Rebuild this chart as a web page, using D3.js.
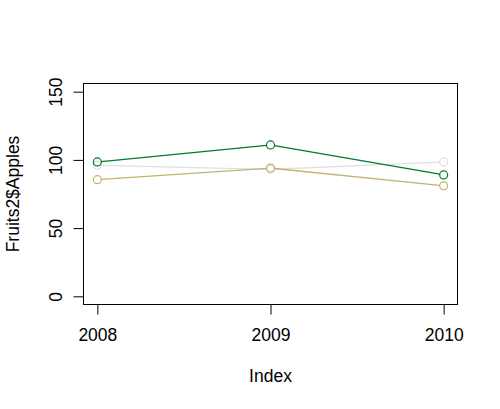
<!DOCTYPE html>
<html>
<head>
<meta charset="utf-8">
<script src="https://cdn.jsdelivr.net/npm/d3@7"></script>
<style>
  body { margin: 0; background: #fff; }
  svg text { font-family: "Liberation Sans", Arial, sans-serif; fill: #000; }
</style>
</head>
<body>
<div id="chart"></div>
<script>
// data
const years = [2008, 2009, 2010];
const apples = [98.5, 111, 89];
const oranges = [96, 93, 98.5];
const bananas = [85.5, 94, 81];
const yTicks = [0, 50, 100, 150];

const series = [
  { name: "Oranges", values: oranges, color: "#e0e0e0" },
  { name: "Bananas", values: bananas, color: "#c2b46e" },
  { name: "Apples", values: apples, color: "#007a2e" }
];

const W = 500, H = 409;
const box = { left: 83.5, right: 457.5, top: 83.5, bottom: 304.5 };
const R = 4;

const svg = d3.select("#chart").append("svg")
  .attr("width", W).attr("height", H);

// R style 4% padding
const x = d3.scaleLinear().domain([2008 - 0.08, 2010 + 0.08]).range([box.left, box.right]);
const y = d3.scaleLinear().domain([-6, 156]).range([box.bottom, box.top]);

const xAxis = svg.append("g")
  .attr("transform", "translate(0," + box.bottom + ")")
  .call(d3.axisBottom(x).tickValues(years).tickFormat(d3.format("d")).tickSize(10).tickPadding(14));
xAxis.select(".domain").attr("stroke", "none");
xAxis.selectAll("text").style("font-size", "17.5px");

const yAxis = svg.append("g")
  .attr("transform", "translate(" + box.left + ",0)")
  .call(d3.axisLeft(y).tickValues(yTicks).tickSize(10).tickPadding(0));
yAxis.select(".domain").attr("stroke", "none");
yAxis.selectAll("text")
  .style("font-size", "17.5px")
  .attr("x", 0).attr("dy", 0)
  .attr("text-anchor", "middle")
  .attr("transform", "translate(-22,0) rotate(-90)");

svg.append("rect")
  .attr("x", box.left).attr("y", box.top)
  .attr("width", box.right - box.left).attr("height", box.bottom - box.top)
  .attr("fill", "none").attr("stroke", "#000").attr("stroke-width", 1);

// type = "b": segments stop short of the points
series.forEach(s => {
  const pts = s.values.map((v, i) => [x(years[i]), y(v)]);
  const segs = d3.pairs(pts).map(([a, b]) => {
    const dx = b[0] - a[0], dy = b[1] - a[1];
    const len = Math.hypot(dx, dy);
    const ux = dx / len * R, uy = dy / len * R;
    return [[a[0] + ux, a[1] + uy], [b[0] - ux, b[1] - uy]];
  });
  svg.selectAll(null)
    .data(segs)
    .enter()
    .append("path")
    .attr("d", d3.line())
    .attr("fill", "none")
    .attr("stroke", s.color)
    .attr("stroke-width", 1.3);
  svg.selectAll(null)
    .data(s.values)
    .enter()
    .append("circle")
    .attr("cx", (d, i) => x(years[i]))
    .attr("cy", d => y(d))
    .attr("r", R)
    .attr("fill", "none")
    .attr("stroke", s.color)
    .attr("stroke-width", 1.2);
});

svg.append("text")
  .attr("x", (box.left + box.right) / 2)
  .attr("y", 382)
  .attr("text-anchor", "middle")
  .style("font-size", "17.5px")
  .text("Index");

svg.append("text")
  .attr("transform", "translate(19," + (box.top + box.bottom) / 2 + ") rotate(-90)")
  .attr("text-anchor", "middle")
  .style("font-size", "17.5px")
  .text("Fruits2$Apples");
</script>
</body>
</html>
